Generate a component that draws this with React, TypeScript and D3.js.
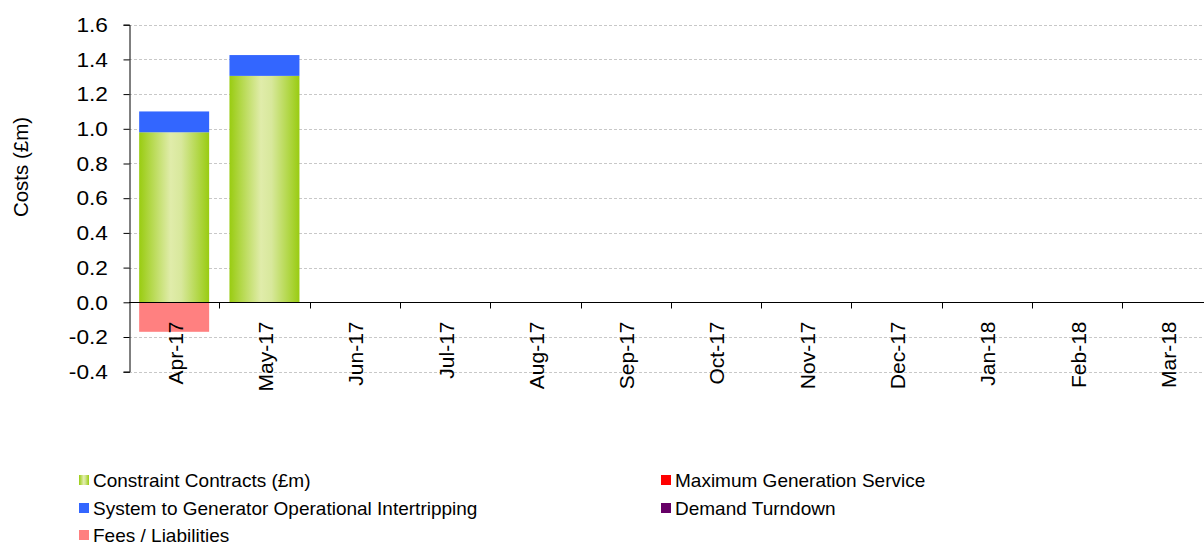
import { useEffect, useRef } from "react";
import * as d3 from "d3";

const MONTHS = ["Apr-17", "May-17", "Jun-17", "Jul-17", "Aug-17", "Sep-17", "Oct-17", "Nov-17", "Dec-17", "Jan-18", "Feb-18", "Mar-18"];
const CONSTRAINT = [0.98, 1.305, 0, 0, 0, 0, 0, 0, 0, 0, 0, 0];
const INTERTRIP = [0.12, 0.12, 0, 0, 0, 0, 0, 0, 0, 0, 0, 0];
const FEES = [-0.17, 0, 0, 0, 0, 0, 0, 0, 0, 0, 0, 0];
const MAX_GEN = [0, 0, 0, 0, 0, 0, 0, 0, 0, 0, 0, 0];
const DEMAND = [0, 0, 0, 0, 0, 0, 0, 0, 0, 0, 0, 0];
const Y_TICKS = [-0.4, -0.2, 0, 0.2, 0.4, 0.6, 0.8, 1.0, 1.2, 1.4, 1.6];

const SERIES = [
  { key: "constraint", label: "Constraint Contracts (£m)", values: CONSTRAINT, fill: "url(#greenGrad)" },
  { key: "intertrip", label: "System to Generator Operational Intertripping", values: INTERTRIP, fill: "#3366ff" },
  { key: "fees", label: "Fees / Liabilities", values: FEES, fill: "#ff8080" },
  { key: "maxgen", label: "Maximum Generation Service", values: MAX_GEN, fill: "#ff0000" },
  { key: "demand", label: "Demand Turndown", values: DEMAND, fill: "#660066" },
];

const WIDTH = 1204;
const HEIGHT = 544;
const FONT = "'Liberation Sans', Arial, sans-serif";

export default function App() {
  const svgRef = useRef<SVGSVGElement>(null);

  useEffect(() => {
    const svgEl = svgRef.current;
    if (!svgEl) return;
    const svg = d3.select(svgEl);
    svg.selectAll("*").remove();

    const left = 129;
    const top = 24.7;
    const bottom = 371.7;
    const step = 90.3;

    const x = d3.scaleBand<string>()
      .domain(MONTHS)
      .range([left, left + 12 * step])
      .paddingInner(0.225)
      .paddingOuter(0.1125);
    const y = d3.scaleLinear().domain([-0.4, 1.6]).range([bottom, top]);

    const defs = svg.append("defs");
    const grad = defs.append("linearGradient").attr("id", "greenGrad").attr("x1", "0").attr("x2", "1").attr("y1", "0").attr("y2", "0");
    grad.append("stop").attr("offset", "0%").attr("stop-color", "#99cc11");
    grad.append("stop").attr("offset", "45%").attr("stop-color", "#e0ecaa");
    grad.append("stop").attr("offset", "60%").attr("stop-color", "#d8e89c");
    grad.append("stop").attr("offset", "100%").attr("stop-color", "#99cc11");

    // gridlines
    svg.append("g")
      .selectAll("line")
      .data(Y_TICKS.filter((t) => t !== 0))
      .join("line")
      .attr("x1", left)
      .attr("x2", WIDTH)
      .attr("y1", (d) => Math.round(y(d)) + 0.5)
      .attr("y2", (d) => Math.round(y(d)) + 0.5)
      .attr("stroke", "#c8c8c8")
      .attr("stroke-dasharray", "3,2");

    // stacked bars
    const rows = MONTHS.map((m, i) => {
      const r: Record<string, number | string> = { month: m };
      SERIES.forEach((s) => (r[s.key] = s.values[i]));
      return r;
    });
    const stack = d3.stack<Record<string, number | string>>()
      .keys(SERIES.map((s) => s.key))
      .value((d, k) => d[k] as number)
      .offset(d3.stackOffsetDiverging);
    const stacked = stack(rows);

    svg.append("g")
      .selectAll("g")
      .data(stacked)
      .join("g")
      .attr("fill", (_, i) => SERIES[i].fill)
      .selectAll("rect")
      .data((d) => d)
      .join("rect")
      .attr("x", (d) => x(d.data.month as string)!)
      .attr("width", x.bandwidth())
      .attr("y", (d) => y(Math.max(d[0], d[1])))
      .attr("height", (d) => Math.abs(y(d[0]) - y(d[1])));

    // y axis
    const yAxis = svg.append("g").attr("transform", `translate(${left + 0.5},0)`)
      .call(d3.axisLeft(y).tickValues(Y_TICKS).tickSize(6).tickFormat((d) => d3.format(".1f")(d as number).replace("\u2212", "-")));
    yAxis.select(".domain").attr("stroke", "#000");
    yAxis.selectAll(".tick line").attr("stroke", "#000");
    yAxis.selectAll(".tick text")
      .attr("font-size", 21)
      .attr("font-family", FONT)
      .attr("fill", "#000")
      .attr("x", -20)
      .attr("transform", "scale(1.08,1)");

    // x axis at zero
    const y0 = Math.round(y(0)) + 0.5;
    svg.append("line").attr("x1", left).attr("x2", WIDTH).attr("y1", y0).attr("y2", y0).attr("stroke", "#000");
    const start = x.range()[0];
    svg.append("g")
      .selectAll("line")
      .data(d3.range(1, 13))
      .join("line")
      .attr("x1", (i) => Math.round(start + i * x.step()) + 0.5)
      .attr("x2", (i) => Math.round(start + i * x.step()) + 0.5)
      .attr("y1", y0)
      .attr("y2", y0 + 6)
      .attr("stroke", "#000");

    svg.append("g")
      .selectAll("text")
      .data(MONTHS)
      .join("text")
      .attr("transform", (d) => `translate(${x(d)! + x.bandwidth() / 2 + 8.5},${y0 + 19}) rotate(-90)`)
      .attr("text-anchor", "end")
      .attr("font-size", 21)
      .attr("font-family", FONT)
      .text((d) => d);

    svg.append("text")
      .attr("transform", `translate(28,167) rotate(-90)`)
      .attr("text-anchor", "middle")
      .attr("font-size", 20.5)
      .attr("font-family", FONT)
      .text("Costs (£m)");

    // legend
    const legendPos = [
      { x: 79, y: 480 },
      { x: 79, y: 508 },
      { x: 79, y: 535 },
      { x: 661, y: 480 },
      { x: 661, y: 508 },
    ];
    const lg = svg.append("g")
      .selectAll("g")
      .data(SERIES)
      .join("g")
      .attr("transform", (_, i) => `translate(${legendPos[i].x},${legendPos[i].y})`);
    lg.append("rect").attr("x", 0).attr("y", -5).attr("width", 10).attr("height", 10).attr("fill", (d) => d.fill);
    lg.append("text")
      .attr("x", 14)
      .attr("dy", "0.35em")
      .attr("font-size", 19)
      .attr("font-family", FONT)
      .text((d) => d.label);
  }, []);

  return (
    <svg
      ref={svgRef}
      width={WIDTH}
      height={HEIGHT}
      style={{ position: "absolute", left: 0, top: 0, background: "#fff" }}
    />
  );
}
